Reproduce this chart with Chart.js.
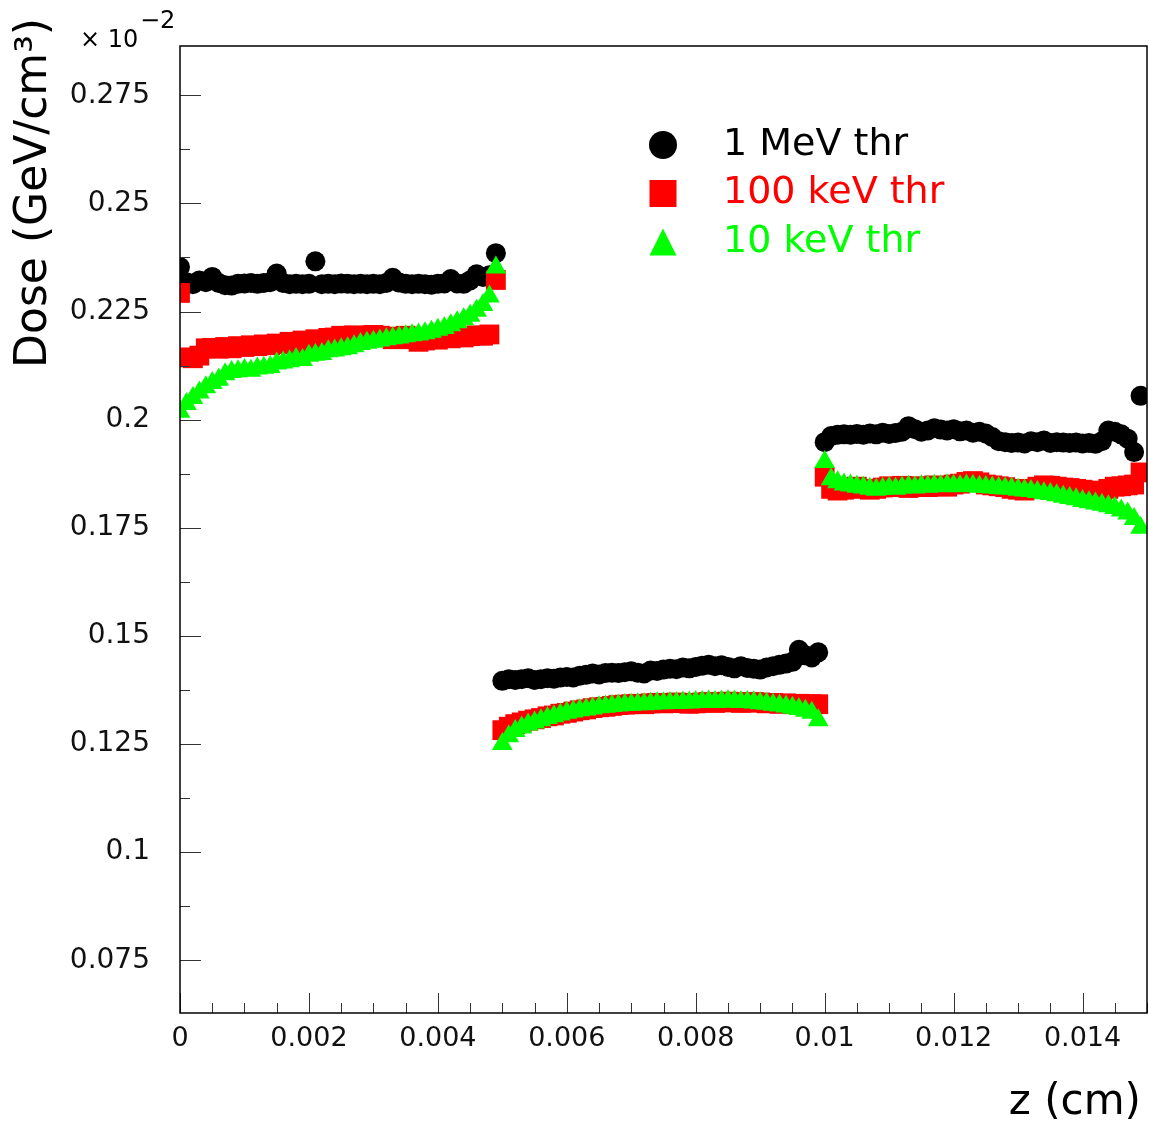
<!DOCTYPE html>
<html>
<head>
<meta charset="utf-8">
<title>Dose vs z</title>
<script src="https://cdn.jsdelivr.net/npm/chart.js@4.4.0/dist/chart.umd.min.js"></script>
<style>
  html, body { margin: 0; padding: 0; background: #fff; overflow: hidden; }
  #dose { display: block; }
</style>
</head>
<body>
<canvas id="dose" width="1149" height="1124"></canvas>
<script>
// histogram bins: 150 bins of 0.0001 cm, point drawn at the low edge of each bin
const nBins = 150;
const binWidth = 0.0001;
const zBins = Array.from({length: nBins}, (_, i) => +(i * binWidth).toFixed(4));

// dose, 1 MeV threshold (x 10^-2 GeV/cm3)
const dose1MeV = [
  0.2353, 0.2318, 0.2313, 0.2322, 0.2318, 0.2330, 0.2316, 0.2311, 0.2310, 0.2314,
  0.2315, 0.2316, 0.2314, 0.2316, 0.2318, 0.2338, 0.2316, 0.2313, 0.2314, 0.2313,
  0.2314, 0.2366, 0.2313, 0.2314, 0.2313, 0.2315, 0.2314, 0.2313, 0.2314, 0.2313,
  0.2314, 0.2313, 0.2316, 0.2328, 0.2317, 0.2314, 0.2313, 0.2314, 0.2313, 0.2312,
  0.2314, 0.2315, 0.2325, 0.2315, 0.2314, 0.2322, 0.2336, 0.2330, 0.2334, 0.2385,
  0.1396, 0.1400, 0.1398, 0.1400, 0.1402, 0.1398, 0.1400, 0.1402, 0.1401, 0.1404,
  0.1405, 0.1404, 0.1408, 0.1410, 0.1413, 0.1411, 0.1414, 0.1415, 0.1414, 0.1416,
  0.1418, 0.1415, 0.1413, 0.1420, 0.1419, 0.1422, 0.1424, 0.1423, 0.1427, 0.1425,
  0.1428, 0.1431, 0.1433, 0.1430, 0.1432, 0.1428, 0.1425, 0.1430, 0.1426, 0.1424,
  0.1422, 0.1427, 0.1430, 0.1433, 0.1436, 0.1440, 0.1468, 0.1455, 0.1450, 0.1462,
  0.1948, 0.1962, 0.1965, 0.1966, 0.1965, 0.1967, 0.1965, 0.1968, 0.1966, 0.1970,
  0.1967, 0.1969, 0.1972, 0.1985, 0.1978, 0.1972, 0.1975, 0.1980, 0.1977, 0.1975,
  0.1978, 0.1973, 0.1975, 0.1970, 0.1972, 0.1968, 0.1960, 0.1950, 0.1948, 0.1946,
  0.1947, 0.1945, 0.1950, 0.1948, 0.1952, 0.1946, 0.1948, 0.1947, 0.1946, 0.1947,
  0.1945, 0.1946, 0.1944, 0.1950, 0.1975, 0.1972, 0.1966, 0.1956, 0.1925, 0.2055
];

// dose, 100 keV threshold
const dose100keV = [
  0.2293, 0.2144, 0.2142, 0.2148, 0.2165, 0.2166, 0.2164, 0.2168, 0.2165, 0.2170,
  0.2168, 0.2172, 0.2170, 0.2174, 0.2172, 0.2176, 0.2175, 0.2180, 0.2176, 0.2183,
  0.2180, 0.2186, 0.2178, 0.2189, 0.2190, 0.2194, 0.2192, 0.2195, 0.2193, 0.2190,
  0.2196, 0.2194, 0.2192, 0.2186, 0.2190, 0.2194, 0.2186, 0.2180, 0.2183, 0.2188,
  0.2185, 0.2190, 0.2188, 0.2192, 0.2190, 0.2193, 0.2195, 0.2194, 0.2197, 0.2323,
  0.1282, 0.1290, 0.1296, 0.1300, 0.1304, 0.1307, 0.1310, 0.1314, 0.1316, 0.1320,
  0.1322, 0.1325, 0.1328, 0.1330, 0.1333, 0.1335, 0.1336, 0.1338, 0.1340, 0.1341,
  0.1342, 0.1343, 0.1342, 0.1344, 0.1345, 0.1344, 0.1345, 0.1346, 0.1345, 0.1343,
  0.1344, 0.1346, 0.1347, 0.1345, 0.1346, 0.1348, 0.1347, 0.1345, 0.1346, 0.1347,
  0.1346, 0.1344, 0.1345, 0.1343, 0.1344, 0.1342, 0.1343, 0.1341, 0.1342, 0.1342,
  0.1868, 0.1840, 0.1836, 0.1838, 0.1842, 0.1845, 0.1840, 0.1838, 0.1840, 0.1843,
  0.1846, 0.1844, 0.1847, 0.1842, 0.1845, 0.1846, 0.1844, 0.1848, 0.1846, 0.1845,
  0.1850, 0.1852, 0.1856, 0.1858, 0.1855, 0.1850, 0.1848, 0.1846, 0.1844, 0.1840,
  0.1838, 0.1836, 0.1840, 0.1845, 0.1848, 0.1847, 0.1845, 0.1843, 0.1842, 0.1840,
  0.1838, 0.1836, 0.1834, 0.1835, 0.1840, 0.1845, 0.1846, 0.1848, 0.1850, 0.1878
];

// dose, 10 keV threshold
const dose10keV = [
  0.2018, 0.2036, 0.2050, 0.2063, 0.2075, 0.2085, 0.2092, 0.2105, 0.2110, 0.2112,
  0.2115, 0.2113, 0.2118, 0.2120, 0.2122, 0.2130, 0.2132, 0.2135, 0.2140, 0.2138,
  0.2148, 0.2150, 0.2152, 0.2158, 0.2160, 0.2163, 0.2165, 0.2170, 0.2175, 0.2178,
  0.2180, 0.2183, 0.2186, 0.2188, 0.2190, 0.2193, 0.2195, 0.2197, 0.2200, 0.2203,
  0.2208, 0.2212, 0.2218, 0.2225, 0.2232, 0.2240, 0.2252, 0.2265, 0.2285, 0.2352,
  0.1250, 0.1268, 0.1280, 0.1288, 0.1295, 0.1300, 0.1305, 0.1310, 0.1314, 0.1318,
  0.1322, 0.1325, 0.1328, 0.1330, 0.1332, 0.1335, 0.1336, 0.1338, 0.1339, 0.1340,
  0.1341, 0.1342, 0.1342, 0.1343, 0.1344, 0.1344, 0.1345, 0.1345, 0.1346, 0.1346,
  0.1347, 0.1347, 0.1348, 0.1347, 0.1348, 0.1349, 0.1348, 0.1347, 0.1347, 0.1346,
  0.1344, 0.1343, 0.1341, 0.1339, 0.1337, 0.1334, 0.1331, 0.1327, 0.1322, 0.1305,
  0.1902, 0.1862, 0.1855, 0.1850, 0.1848, 0.1845, 0.1843, 0.1840, 0.1838, 0.1840,
  0.1842, 0.1840, 0.1843, 0.1845, 0.1843, 0.1846, 0.1845, 0.1847, 0.1846, 0.1848,
  0.1847, 0.1846, 0.1848, 0.1847, 0.1845, 0.1844, 0.1843, 0.1842, 0.1841, 0.1840,
  0.1838, 0.1836, 0.1835, 0.1833, 0.1830, 0.1828, 0.1825, 0.1822, 0.1819, 0.1816,
  0.1812, 0.1809, 0.1806, 0.1803, 0.1800, 0.1796, 0.1790, 0.1783, 0.1770, 0.1750
];

const seriesLabels = ['1 MeV thr', '100 keV thr', '10 keV thr'];
const xTickLabels = ['0', '0.002', '0.004', '0.006', '0.008', '0.01', '0.012', '0.014'];
const yTickLabels = ['0.075', '0.1', '0.125', '0.15', '0.175', '0.2', '0.225', '0.25', '0.275'];

const xMin = 0, xMax = 0.015, xMinorStep = 0.0005;
const yMin = 0.0628, yMax = 0.2864, yMinorStep = 0.0125;

const colors = ['#000000', '#ff0000', '#00ff00'];
const styles = ['circle', 'rect', 'triangle'];
const radii = [10, 14, 12];
const FONT = "'DejaVu Sans', sans-serif";

function toPoints(values) {
    return values.map((v, i) => ({x: zBins[i], y: v}));
}

const seriesValues = [dose1MeV, dose100keV, dose10keV];
const datasets = seriesValues.map((vals, idx) => ({
    label: seriesLabels[idx],
    data: toPoints(vals),
    pointStyle: styles[idx],
    pointRadius: radii[idx],
    pointHoverRadius: radii[idx],
    backgroundColor: colors[idx],
    borderColor: colors[idx],
    borderWidth: 0,
    clip: 0,
    // later series are painted on top (green over red over black)
    order: 2 - idx
}));

function drawMarker(ctx, style, x, y, size, color) {
    ctx.fillStyle = color;
    ctx.beginPath();
    if (style === 'circle') {
        ctx.arc(x, y, size / 2, 0, Math.PI * 2);
    } else if (style === 'rect') {
        ctx.rect(x - size / 2, y - size / 2, size, size);
    } else {
        ctx.moveTo(x, y - size / 2);
        ctx.lineTo(x + size / 2, y + size / 2);
        ctx.lineTo(x - size / 2, y + size / 2);
        ctx.closePath();
    }
    ctx.fill();
}

// frame, inward ticks, axis titles, exponent and legend, drawn the ROOT way
const rootFrame = {
    id: 'rootFrame',
    afterDraw(chart) {
        const {ctx, chartArea: a, scales} = chart;
        const xs = scales.x, ys = scales.y;
        ctx.save();

        // ticks
        ctx.strokeStyle = '#333';
        ctx.lineWidth = 1;
        ctx.beginPath();
        for (let i = 0; i * xMinorStep <= xMax + 1e-9; i++) {
            const v = i * xMinorStep;
            const px = Math.round(xs.getPixelForValue(v)) + 0.5;
            const major = xTickLabels.some(t => Math.abs(parseFloat(t) - v) < 1e-9);
            ctx.moveTo(px, a.bottom);
            ctx.lineTo(px, a.bottom - (major ? 20 : 10));
        }
        for (let i = 0; i * yMinorStep <= yMax + 1e-9; i++) {
            const v = i * yMinorStep;
            if (v < yMin) continue;
            const py = Math.round(ys.getPixelForValue(v)) + 0.5;
            const major = yTickLabels.some(t => Math.abs(parseFloat(t) - v) < 1e-9);
            ctx.moveTo(a.left, py);
            ctx.lineTo(a.left + (major ? 21 : 10), py);
        }
        ctx.stroke();

        // frame
        ctx.strokeStyle = '#000';
        ctx.lineWidth = 1.5;
        ctx.strokeRect(a.left, a.top, a.right - a.left, a.bottom - a.top);

        // axis titles
        ctx.fillStyle = '#000';
        ctx.font = '42px ' + FONT;
        ctx.textAlign = 'right';
        ctx.textBaseline = 'alphabetic';
        ctx.fillText('z (cm)', a.right - 6, a.bottom + 101);

        ctx.save();
        ctx.font = '44px ' + FONT;
        ctx.translate(46, 18);
        ctx.rotate(-Math.PI / 2);
        ctx.textAlign = 'right';
        ctx.fillText('Dose (GeV/cm\u00b3)', 0, 0);
        ctx.restore();

        // exponent
        ctx.font = '24px ' + FONT;
        ctx.textAlign = 'left';
        ctx.fillText('\u00d7 10', 80, 47);
        ctx.fillText('\u22122', 140, 28);

        // legend
        const lx = a.left + 483, ly = a.top + 99, dy = 48.5;
        const mSize = [28, 27, 27];
        chart.data.datasets.forEach((ds, idx) => {
            const yy = ly + idx * dy;
            drawMarker(ctx, styles[idx], lx, yy, mSize[idx], colors[idx]);
            ctx.font = '38px ' + FONT;
            ctx.fillStyle = colors[idx];
            ctx.textAlign = 'left';
            ctx.textBaseline = 'middle';
            ctx.fillText(ds.label, lx + 60, yy);
        });
        ctx.restore();
    }
};

new Chart(document.getElementById('dose'), {
    type: 'scatter',
    data: {datasets: datasets},
    options: {
        responsive: false,
        animation: false,
        events: [],
        // no automatic padding for the big markers: ROOT clips them at the frame
        layout: {autoPadding: false, padding: {top: 46, right: 2, left: 0, bottom: 0}},
        plugins: {
            legend: {display: false},
            tooltip: {enabled: false}
        },
        scales: {
            x: {
                type: 'linear',
                min: xMin,
                max: xMax,
                grid: {display: false, drawTicks: false},
                border: {display: false},
                afterBuildTicks: scale => {
                    scale.ticks = xTickLabels.map(t => ({value: parseFloat(t)}));
                },
                afterFit: scale => {
                    scale.height = 111;
                    scale.paddingLeft = 0;
                    scale.paddingRight = 0;
                },
                ticks: {
                    autoSkip: false,
                    maxRotation: 0,
                    padding: 10,
                    color: '#111',
                    font: {family: FONT, size: 27},
                    callback: (value, index) => xTickLabels[index]
                }
            },
            y: {
                type: 'linear',
                min: yMin,
                max: yMax,
                grid: {display: false, drawTicks: false},
                border: {display: false},
                afterBuildTicks: scale => {
                    scale.ticks = yTickLabels.map(t => ({value: parseFloat(t)}));
                },
                afterFit: scale => {
                    scale.width = 180;
                    scale.paddingTop = 0;
                    scale.paddingBottom = 0;
                },
                ticks: {
                    autoSkip: false,
                    padding: 30,
                    color: '#111',
                    font: {family: FONT, size: 28},
                    callback: (value, index) => yTickLabels[index]
                }
            }
        }
    },
    plugins: [rootFrame]
});
</script>
</body>
</html>
